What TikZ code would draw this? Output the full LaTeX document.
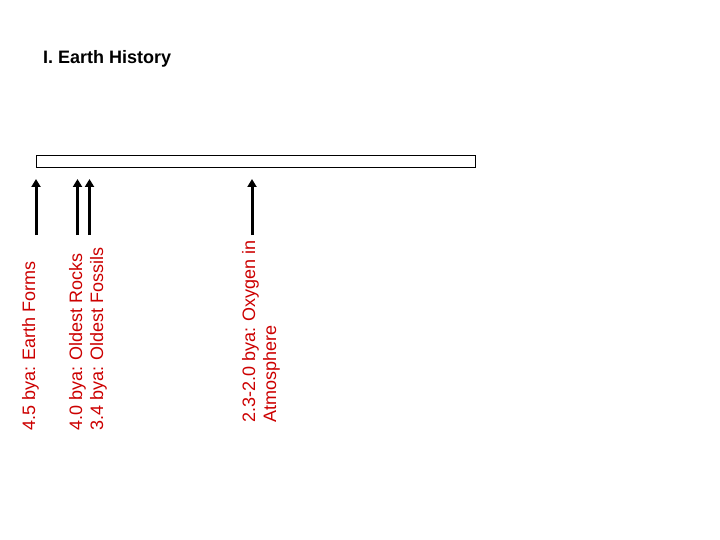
\documentclass[tikz,border=0pt]{standalone}
\usepackage{fontspec}
\setmainfont{Liberation Sans}
\usepackage{xcolor}
\usetikzlibrary{arrows.meta,positioning}
\definecolor{erared}{HTML}{CC0000}
\tikzstyle{era} = [rotate=90, anchor=north west, inner sep=0pt, align=left, text=erared, font=\fontsize{18}{21}\selectfont]
\tikzstyle{arrow} = [line width=3pt, -{Triangle[width=9pt,length=8pt]}]

\begin{document}
\begin{tikzpicture}[x=1pt,y=-1pt]
  \useasboundingbox (0,0) rectangle (720,540);

  \node[anchor=north west, inner sep=0pt, font=\bfseries\fontsize{18}{21}\selectfont] (title) at (43,50) {I. Earth History};

  \node[draw, line width=1pt, minimum width=439pt, minimum height=12pt, inner sep=0pt] (timeline) at (255.5,162) {};

  \foreach \x/\name in {36/forms, 77.5/rocks, 89.5/fossils, 252/oxygen}{
    \coordinate (\name) at (\x,235);
    \coordinate (\name tip) at (\x,179);
    \draw[arrow] (\name) -- (\name tip);
  }

  \node[era] (earthforms) at (22,431) {4.5 bya: Earth Forms};
  \node[era] (oldest) at (69,431) {4.0 bya: Oldest Rocks\\3.4 bya: Oldest Fossils};
  \node[era] (atmosphere) at (242,423) {2.3-2.0 bya: Oxygen in\\Atmosphere};
\end{tikzpicture}
\end{document}
